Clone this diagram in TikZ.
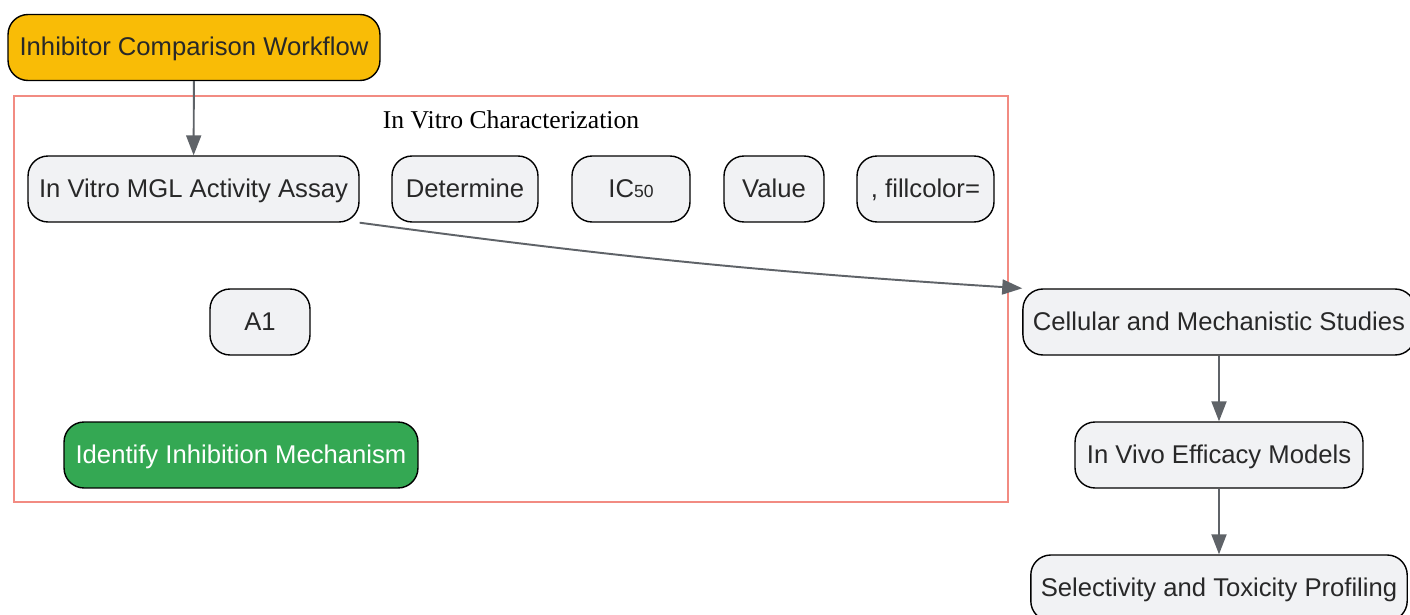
\documentclass[tikz,border=0pt]{standalone}
\usepackage{fontspec}
\setmainfont{Liberation Sans}
\newfontfamily\titlefont{Liberation Serif}
\usetikzlibrary{arrows.meta}
\usetikzlibrary{positioning}
\definecolor{kante}{RGB}{95,99,104}
\definecolor{kasten}{RGB}{241,242,244}
\definecolor{gelb}{RGB}{249,188,6}
\definecolor{gruen}{RGB}{52,168,83}
\definecolor{rahmen}{RGB}{242,139,130}
\definecolor{schrift}{RGB}{40,40,40}
\tikzset{
	schritt/.style={draw=black, line width=0.8pt, fill=kasten, rounded corners=0.4cm, minimum height=1.32cm, text=schrift, font=\fontsize{14.6}{16}\selectfont, text height=1.1em, text depth=0.14em, inner xsep=0.2cm},
	pfeil/.style={draw=kante, line width=1.1pt, -{Triangle[length=0.4cm,width=0.3cm]}}
}
\begin{document}
\begin{tikzpicture}[x=0.02cm,y=-0.02cm]
	\useasboundingbox (0,0) rectangle (1410,615);
	\fill[white] (0,0) rectangle (1410,615);
	% Cluster
	\draw[rahmen, line width=1pt] (14,96) rectangle (1008,502);
	\node[font=\titlefont\fontsize{14.6}{16}\selectfont] (T) at (511,120) {In Vitro Characterization};
	
	\node[schritt, fill=gelb, minimum width=7.44cm] (W) at (194,47.5) {Inhibitor Comparison Workflow};
	\node[schritt, minimum width=6.62cm] (A) at (193.5,189) {In Vitro MGL Activity Assay};
	\node[schritt, minimum width=2.92cm] (D) at (465,189) {Determine};
	\node[schritt, minimum width=2.36cm] (IC) at (631,189) {IC{\fontsize{10}{12}\selectfont 50}};
	\node[schritt, minimum width=2.0cm] (V) at (774,189) {Value};
	\node[schritt, minimum width=2.74cm] (F) at (925.5,189) {, fillcolor=};
	\node[schritt, minimum width=2.0cm] (A1) at (260,322) {A1};
	\node[schritt, fill=gruen, text=white, minimum width=7.08cm] (M) at (241,455) {Identify Inhibition Mechanism};
	
	\node[schritt, minimum width=7.84cm] (C) at (1219,322) {Cellular and Mechanistic Studies};
	\node[schritt, minimum width=5.76cm] (E) at (1219,455) {In Vivo Efficacy Models};
	\node[schritt, minimum width=7.5cm] (S) at (1219,588) {Selectivity and Toxicity Profiling};
	
	\draw[pfeil] (W) -- (A);
	\draw[pfeil] (A.south east) to[bend right=2] (C.north west);
	\draw[pfeil] (C) -- (E);
	\draw[pfeil] (E) -- (S);
\end{tikzpicture}
\end{document}
